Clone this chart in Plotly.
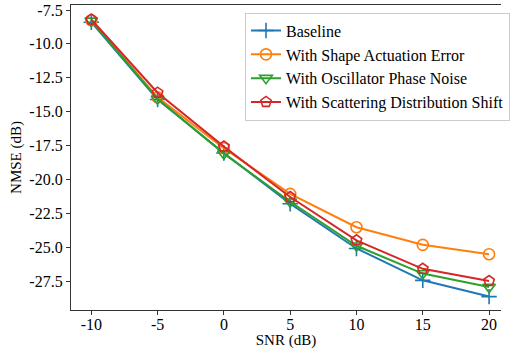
import plotly.graph_objects as go

snr = [-10, -5, 0, 5, 10, 15, 20]
baseline = [-8.4, -14.1, -18.05, -21.8, -25.1, -27.45, -28.65]
shape_err = [-8.25, -13.95, -17.7, -21.07, -23.53, -24.83, -25.52]
osc_noise = [-8.3, -14.05, -18.1, -21.65, -24.9, -26.95, -27.95]
scat_shift = [-8.2, -13.6, -17.58, -21.3, -24.5, -26.6, -27.5]

names = ["Baseline", "With Shape Actuation Error", "With Oscillator Phase Noise",
         "With Scattering Distribution Shift"]
series = [baseline, shape_err, osc_noise, scat_shift]
colors = ["#1f77b4", "#ff7f0e", "#2ca02c", "#d62728"]
symbols = ["cross-thin", "circle-open", "triangle-down-open", "pentagon-open"]

fig = go.Figure()
for n, y, c, s in zip(names, series, colors, symbols):
    fig.add_trace(go.Scatter(
        x=snr, y=y, name=n, mode="lines+markers",
        line=dict(color=c, width=2),
        marker=dict(symbol=s, size=11, color=c, line=dict(color=c, width=1.6)),
    ))

fam = "Liberation Serif"
fig.update_layout(
    width=510, height=349,
    margin=dict(l=71, r=0, t=5, b=39),
    paper_bgcolor="white", plot_bgcolor="white",
    font=dict(family=fam, size=16, color="black"),
    showlegend=True,
    legend=dict(x=0.405, y=0.975, xanchor="left", yanchor="top",
                bordercolor="#cccccc", borderwidth=1, bgcolor="rgba(255,255,255,0.8)",
                font=dict(family=fam, size=16, color="black"),
                tracegroupgap=0, itemwidth=30),
)
fig.update_xaxes(
    range=[-11.53, 20.9], tickvals=snr, ticktext=[str(v) for v in snr],
    showgrid=False, zeroline=False, showline=True, linecolor="#333", linewidth=1.2,
    mirror=True, ticks="outside", ticklen=4, tickcolor="#333",
    tickfont=dict(family=fam, size=16, color="black"),
    ticklabelstandoff=-4,
    title=dict(text="SNR (dB)", standoff=2, font=dict(family=fam, size=15, color="black")),
)
yt = [-7.5, -10.0, -12.5, -15.0, -17.5, -20.0, -22.5, -25.0, -27.5]
fig.update_yaxes(
    range=[-29.64, -7.13], tickvals=yt, ticktext=["%.1f" % v for v in yt],
    showgrid=False, zeroline=False, showline=True, linecolor="#333", linewidth=1.2,
    ticks="outside", ticklen=4, tickcolor="#333",
    tickfont=dict(family=fam, size=16, color="black"),
    title=dict(text="NMSE (dB)", standoff=4, font=dict(family=fam, size=15, color="black")),
)
fig.write_html("out.html")
